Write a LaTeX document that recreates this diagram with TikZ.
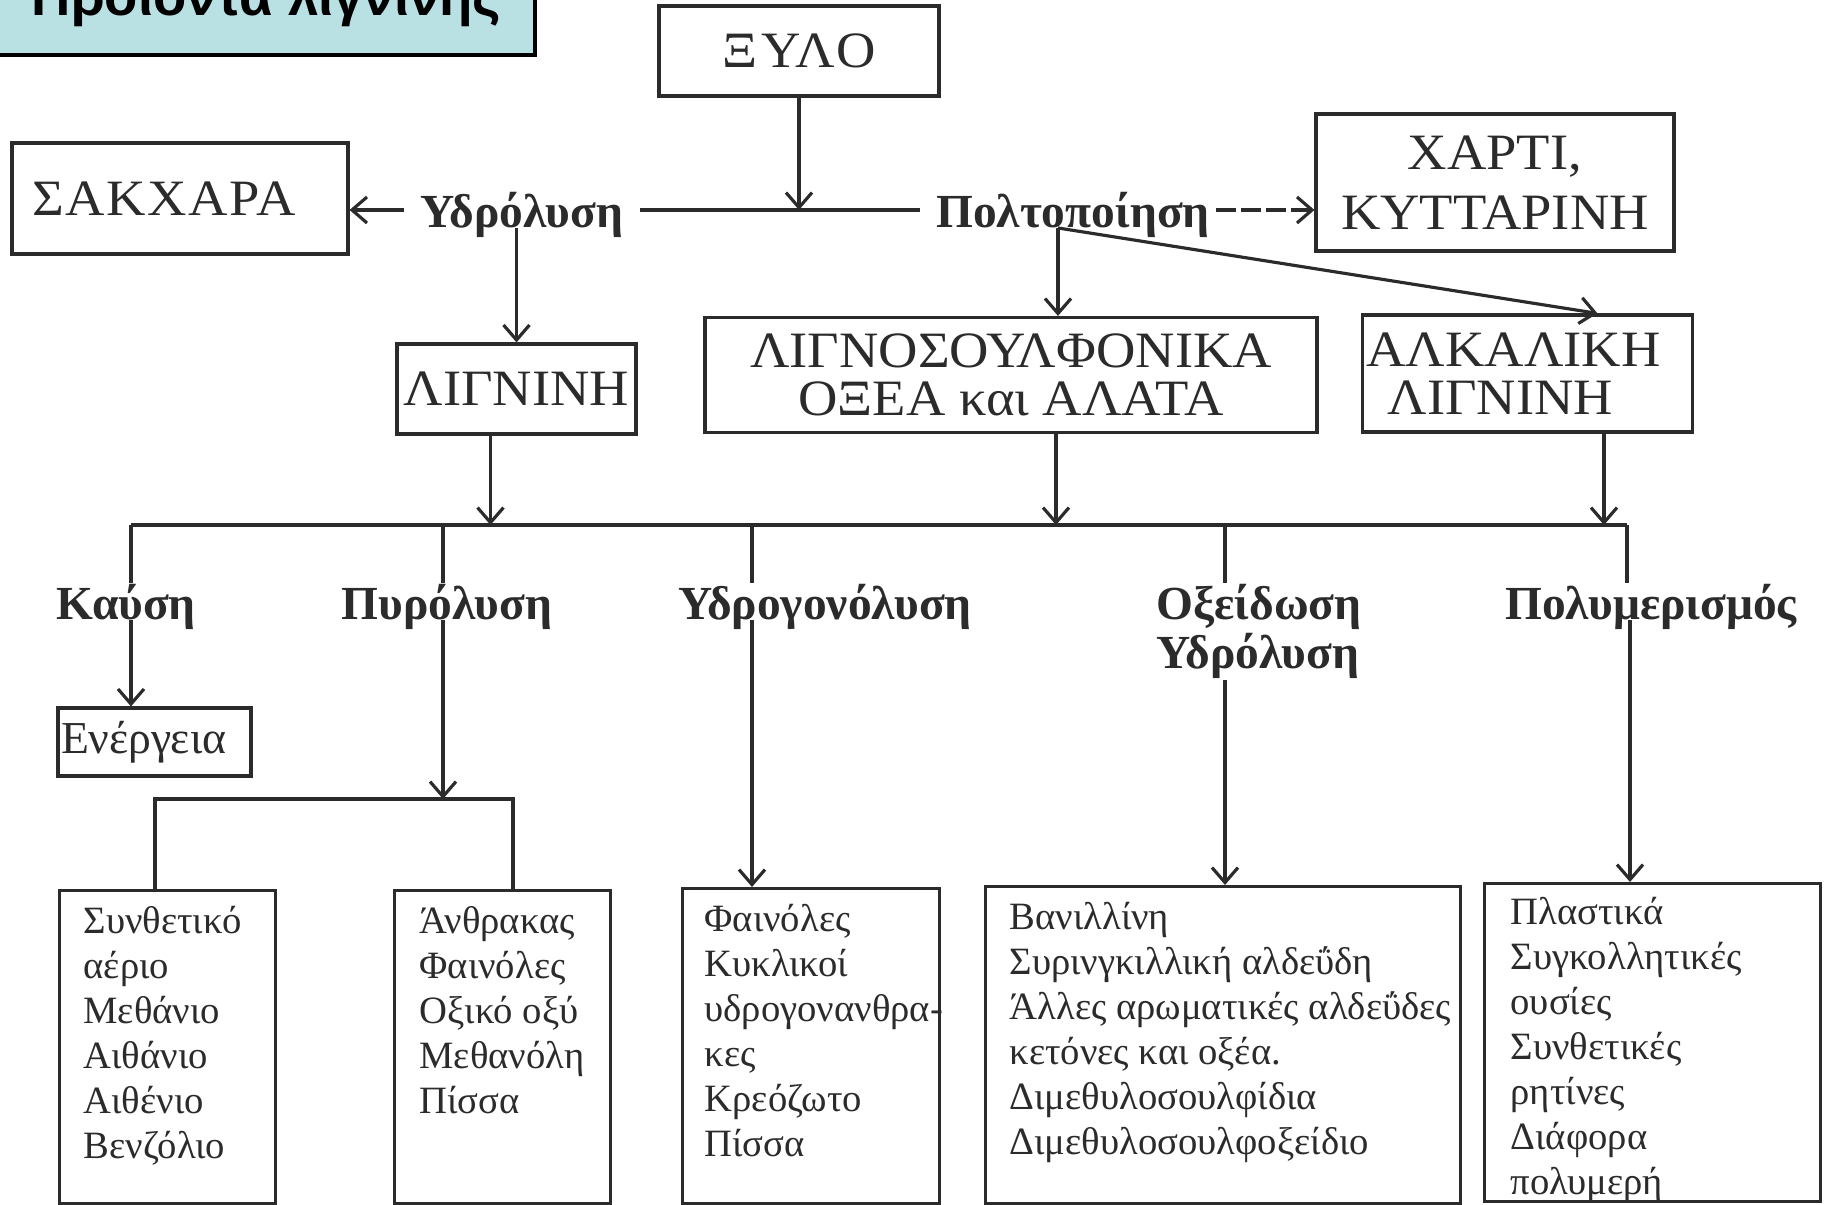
\documentclass[tikz,border=0pt]{standalone}
\usepackage{fontspec}
\setmainfont{Liberation Serif}
\newfontfamily\titlefont{Liberation Sans}
\newfontfamily\capsfont[FakeStretch=1.07]{Liberation Serif}
\usetikzlibrary{arrows.meta, positioning, calc}
\definecolor{ink}{HTML}{2B2B2B}
\definecolor{titlecyan}{HTML}{B9E0E3}

\begin{document}
\begin{tikzpicture}[
  line width=0.9pt,
  box/.style={draw=ink, line width=0.9pt, rectangle, inner sep=0.04cm, align=center,
              text=ink, font=\capsfont\fontsize{14.5}{13.5}\selectfont},
  listbox/.style={draw=ink, line width=0.9pt, rectangle, inner sep=0pt, anchor=north west},
  listtext/.style={anchor=north west, align=left, inner sep=0pt, text=ink,
              font=\fontsize{11}{12.8}\selectfont},
  proc/.style={text=ink, inner xsep=0.15cm, inner ysep=0pt, anchor=base,
              font=\bfseries\fontsize{13.5}{12.3}\selectfont},
  titlebox/.style={draw=black, fill=titlecyan, line width=1pt, inner sep=0pt,
              font=\titlefont\bfseries\fontsize{15.5}{18}\selectfont},
  >={Straight Barb[length=1.5mm, width=2.6mm]}
]
\useasboundingbox (0,0) rectangle (18.29,-12.05);

% title
\node[titlebox, minimum width=5.37cm, minimum height=1.08cm] (title) at (2.665,-0.01) {Προϊόντα λιγνίνης};

% upper level
\node[box, minimum width=2.80cm, minimum height=0.90cm] (wood)   at (7.99,-0.51)
     {\addfontfeature{LetterSpace=7}ΞΥΛΟ};
\node[box, minimum width=3.36cm, minimum height=1.11cm, text width=2.95cm, align=left]
     (sugar) at (1.80,-1.985) {\addfontfeature{LetterSpace=3}ΣΑΚΧΑΡΑ};
\node[box, minimum width=3.58cm, minimum height=1.37cm] (paper)  at (14.95,-1.825) {ΧΑΡΤΙ,\\[3.5pt]ΚΥΤΤΑΡΙΝΗ};
\node[proc] (hydro) at (5.22,-2.28)  {Υδρόλυση};
\node[proc] (pulp)  at (10.73,-2.28) {Πολτοποίηση};

\node[box, minimum width=2.39cm, minimum height=0.90cm] (lignin) at (5.165,-3.89)  {ΛΙΓΝΙΝΗ};
\node[box, minimum width=6.12cm, minimum height=1.15cm] (lsulf)  at (10.11,-3.75)  {ΛΙΓΝΟΣΟΥΛΦΟΝΙΚΑ\\ΟΞΕΑ και ΑΛΑΤΑ};
\node[box, minimum width=3.30cm, minimum height=1.17cm, text width=3.22cm, align=left]
     (alkali) at (15.275,-3.735) {ΑΛΚΑΛΙΚΗ\\\hspace*{0.21cm}ΛΙΓΝΙΝΗ};

% processes
\node[proc] (burn)   at (1.26,-6.20)  {Καύση};
\node[proc] (pyro)   at (4.47,-6.20)  {Πυρόλυση};
\node[proc] (hydgen) at (8.25,-6.20)  {Υδρογονόλυση};
\node[proc, anchor=north west, align=left] (oxid) at (11.40,-5.83) {Οξείδωση\\Υδρόλυση};
\node[proc] (poly)   at (16.51,-6.20) {Πολυμερισμός};

\node[box, minimum width=1.93cm, minimum height=0.68cm, text width=1.87cm, align=left,
      inner sep=0.03cm, font=\fontsize{13}{14}\selectfont] (energy) at (1.545,-7.42) {Ενέργεια};

% product lists
\node[listbox, minimum width=2.16cm, minimum height=3.13cm] (syn)   at (0.58,-8.89) {};
\node[listbox, minimum width=2.16cm, minimum height=3.13cm] (coal)  at (3.93,-8.89) {};
\node[listbox, minimum width=2.57cm, minimum height=3.15cm] (phen)  at (6.81,-8.87) {};
\node[listbox, minimum width=4.75cm, minimum height=3.17cm] (vanil) at (9.84,-8.85) {};
\node[listbox, minimum width=3.36cm, minimum height=3.18cm] (plast) at (14.83,-8.82) {};

\node[listtext] (syntxt)   at ([xshift=0.24cm, yshift=-0.16cm]syn.north west)
  {Συνθετικό\\αέριο\\Μεθάνιο\\Αιθάνιο\\Αιθένιο\\Βενζόλιο};
\node[listtext] (coaltxt)  at ([xshift=0.25cm, yshift=-0.16cm]coal.north west)
  {Άνθρακας\\Φαινόλες\\Οξικό οξύ\\Μεθανόλη\\Πίσσα};
\node[listtext] (phentxt)  at ([xshift=0.22cm, yshift=-0.16cm]phen.north west)
  {Φαινόλες\\Κυκλικοί\\υδρογονανθρα-\\κες\\Κρεόζωτο\\Πίσσα};
\node[listtext] (vaniltxt) at ([xshift=0.24cm, yshift=-0.16cm]vanil.north west)
  {Βανιλλίνη\\Συρινγκιλλική αλδεΰδη\\Άλλες αρωματικές αλδεΰδες\\κετόνες και οξέα.\\Διμεθυλοσουλφίδια\\Διμεθυλοσουλφοξείδιο};
\node[listtext] (plasttxt) at ([xshift=0.26cm, yshift=-0.14cm]plast.north west)
  {Πλαστικά\\Συγκολλητικές\\ουσίες\\Συνθετικές\\ρητίνες\\Διάφορα\\πολυμερή};

% top connectors
\coordinate (split) at (7.99,-2.10);
\draw[->, draw=ink] (wood.south) -- (split);
\draw[draw=ink] (hydro.east |- split) -- (pulp.west |- split);
\draw[->, draw=ink] (hydro.west |- split) -- (sugar.east |- split);
\draw[->, draw=ink, dash pattern=on 2mm off 0.5mm] ([xshift=-0.1cm]pulp.east |- split) -- (paper.west |- split);
\draw[->, draw=ink] (hydro.base -| lignin.north) -- (lignin.north);
\coordinate (fork) at ([xshift=-0.15cm]pulp.base);
\draw[->, draw=ink] (fork) -- (fork |- lsulf.north);
\draw[->, draw=ink] (fork) -- ([xshift=0.70cm]alkali.north);

% bus
\coordinate (busL) at (1.31,-5.25);
\coordinate (busR) at (16.27,-5.25);
\draw[draw=ink] (busL) -- (busR);
\coordinate (lgout) at ([xshift=-0.26cm]lignin.south);
\coordinate (lsout) at ([xshift=0.45cm]lsulf.south);
\coordinate (akout) at ([xshift=0.765cm]alkali.south);
\draw[->, draw=ink] (lgout) -- (lgout |- busL);
\draw[->, draw=ink] (lsout) -- (lsout |- busL);
\draw[->, draw=ink] (akout) -- (akout |- busL);
\foreach \lab/\xx in {burn/1.31, pyro/4.43, hydgen/7.52, oxid/12.25, poly/16.27}
  \draw[draw=ink] (\xx,0 |- busL) -- (\xx,0 |- \lab.north);

% lower connectors
\draw[->, draw=ink] (1.31,0 |- burn.base) -- (1.31,0 |- energy.north);
\coordinate (pyrojoin) at (4.43,-7.99);
\draw[->, draw=ink] (4.43,0 |- pyro.base) -- (pyrojoin);
\draw[draw=ink] (1.55,0 |- syn.north) |- (pyrojoin) -| (5.13,0 |- coal.north);
\draw[->, draw=ink] (7.52,0 |- hydgen.base) -- (7.52,0 |- phen.north);
\draw[->, draw=ink] (12.25,0 |- oxid.south) -- (12.25,0 |- vanil.north);
\draw[->, draw=ink] (16.30,0 |- poly.base) -- (16.30,0 |- plast.north);
\end{tikzpicture}
\end{document}
